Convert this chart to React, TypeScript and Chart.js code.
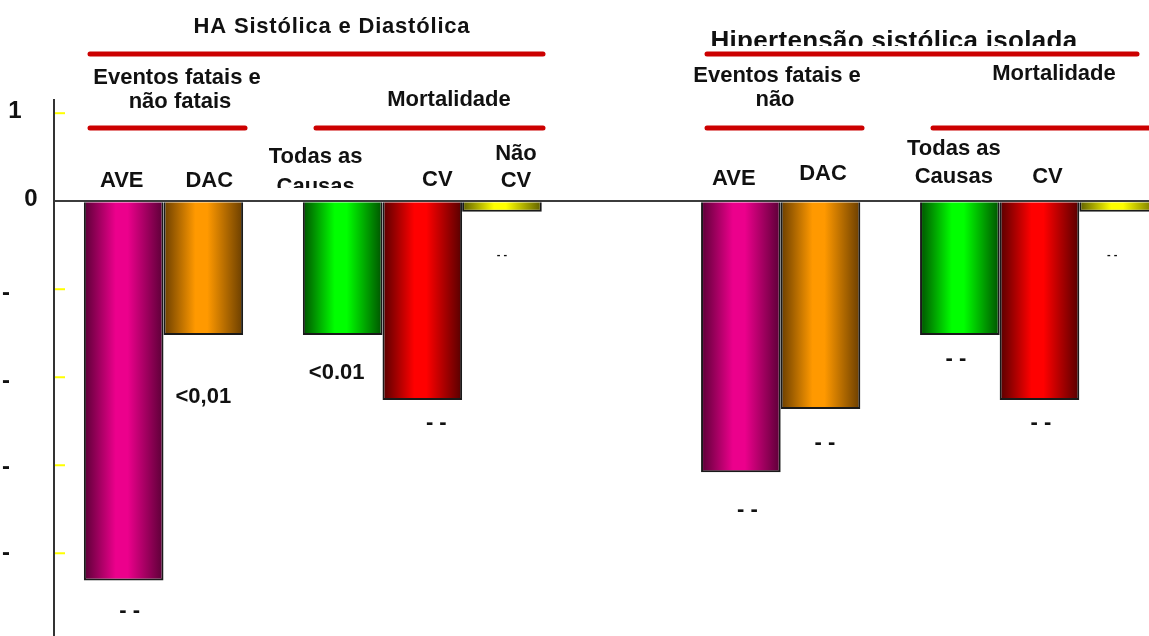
import React, { useEffect, useRef } from "react";
import { Chart, registerables } from "chart.js";

Chart.register(...registerables);

// ---------------- data ----------------
const groupTitles = ["HA Sistólica e Diastólica", "Hipertensão sistólica isolada"];
const categories = ["AVE", "DAC", "Todas as Causas", "CV", "Não CV"];
const sectionSizes = [2, 3]; // Eventos fatais e não fatais | Mortalidade
const haSectionTitles = [["Eventos fatais e", "não fatais"], ["Mortalidade"]];
const hstSectionTitles = [["Eventos fatais e", "não"], ["Mortalidade"]];
const haCategoryLabels = [["AVE"], ["DAC"], ["Todas as", "Causas"], ["CV"], ["Não", "CV"]];
const hstCategoryLabels = [["AVE"], ["DAC"], ["Todas as", "Causas"], ["CV"], []];
const haValues = [-4.31, -1.52, -1.52, -2.26, -0.12];
const hstValues = [-3.08, -2.36, -1.52, -2.26, -0.12];
const haNotes = ["- -", "<0,01", "<0.01", "- -", "- -"];
const hstNotes = ["- -", "- -", "- -", "- -", "- -"];
const yTickValues = [1, 0, -1, -2, -3, -4];
const yTickLabels = ["1", "0", "-", "-", "-", "-"];

// ---------------- layout / style ----------------
const W = 1149;
const H = 636;
const FONT = '"Liberation Sans", Arial, sans-serif';
const BAR_SLOTS = 4;
const LEAD_SLOTS = 3;
const SECTION_GAP = 3;
const GROUP_GAP = 8;
const TOTAL_SLOTS = 55;
const Y_MIN = -4.94;
const Y_MAX = 1.15;

const barColors: [string, string][] = [
  ["#5a0036", "#ec008c"],
  ["#6a3e00", "#ff9900"],
  ["#005200", "#00ff00"],
  ["#560000", "#ff0000"],
  ["#5e5e00", "#ffff00"],
];

const yLabelX = [15, 31, 6, 6, 6, 6];
const yLabelDy = [-2, -2, 4, 4, 2, 0];

const headerLayout = [
  { x: 332, base: 33, size: 22, spacing: 0.8, clip: 0, line: [90, 543] },
  { x: 894, base: 49, size: 26, spacing: 0.3, clip: 46, line: [707, 1137] },
];
const HEADER_LINE_Y = 54;
const SECTION_LINE_Y = 128;
const sectionLayout = [
  [
    { x: [177, 180], base: [84, 108], line: [90, 245] },
    { x: [449], base: [106], line: [316, 543] },
  ],
  [
    { x: [777, 775], base: [82, 106], line: [707, 862] },
    { x: [1054], base: [80], line: [933, 1165] },
  ],
];
const labelLayout = [
  [
    { dx: -2, base: [187] },
    { dx: 6, base: [187] },
    { dx: -27, base: [163, 193] },
    { dx: 15, base: [186] },
    { dx: 14, base: [160, 187] },
  ],
  [
    { dx: -7, base: [185] },
    { dx: 2.5, base: [180] },
    { dx: -6, base: [155, 183] },
    { dx: 8, base: [183] },
    { dx: 0, base: [] },
  ],
];
const LABEL_CLIP_Y = 188;
const noteLayout = [
  [[6, 30], [0, 62], [-6, 38], [14, 23], [0, 43]],
  [[6.5, 38], [4.5, 34], [-4, 24], [1.5, 23], [-7, 43]],
];

// ---------------- build slots ----------------
const groupValues = [haValues, hstValues];
const groupNotes = [haNotes, hstNotes];
const groupLabels = [haCategoryLabels, hstCategoryLabels];
const groupSections = [haSectionTitles, hstSectionTitles];

const barSlots: number[][] = [];
{
  let s = LEAD_SLOTS;
  groupTitles.forEach((_, gi) => {
    if (gi > 0) s += GROUP_GAP;
    const row: number[] = [];
    sectionSizes.forEach((n, si) => {
      if (si > 0) s += SECTION_GAP;
      for (let k = 0; k < n; k++) {
        row.push(s);
        s += BAR_SLOTS;
      }
    });
    barSlots.push(row);
  });
}
const slotLabels: string[] = new Array(TOTAL_SLOTS).fill("");
const slotData: (number | null)[] = new Array(TOTAL_SLOTS).fill(null);
const slotCategory: number[] = new Array(TOTAL_SLOTS).fill(-1);
barSlots.forEach((row, gi) =>
  row.forEach((slot, ci) => {
    slotData[slot] = groupValues[gi][ci];
    slotCategory[slot] = ci;
    slotLabels[slot] = categories[ci];
  })
);

function barFill(c: any) {
  const ci = c.dataIndex !== undefined ? slotCategory[c.dataIndex] : -1;
  const pair = barColors[ci] || barColors[0];
  const chart = c.chart;
  const xs = chart.scales && chart.scales.x;
  if (ci < 0 || !chart.chartArea || !xs) return pair[1];
  const cx = xs.getPixelForValue(c.dataIndex);
  const half = ((xs.width / TOTAL_SLOTS) * BAR_SLOTS) / 2;
  if (!isFinite(cx) || !isFinite(half)) return pair[1];
  const g = chart.ctx.createLinearGradient(cx - half, 0, cx + half, 0);
  g.addColorStop(0, pair[0]);
  g.addColorStop(0.4, pair[1]);
  g.addColorStop(0.55, pair[1]);
  g.addColorStop(1, pair[0]);
  return g;
}

function drawText(
  ctx: CanvasRenderingContext2D,
  str: string,
  x: number,
  y: number,
  size: number,
  baseline: CanvasTextBaseline = "alphabetic",
  spacing = 0
) {
  ctx.save();
  ctx.font = `bold ${size}px ${FONT}`;
  ctx.fillStyle = "#111111";
  ctx.textAlign = "center";
  ctx.textBaseline = baseline;
  if (spacing && "letterSpacing" in ctx) (ctx as any).letterSpacing = `${spacing}px`;
  ctx.fillText(str, x, y);
  ctx.restore();
}

function redLine(ctx: CanvasRenderingContext2D, x1: number, x2: number, y: number) {
  ctx.save();
  ctx.strokeStyle = "#cc0000";
  ctx.lineWidth = 5;
  ctx.lineCap = "round";
  ctx.beginPath();
  ctx.moveTo(x1, y);
  ctx.lineTo(x2, y);
  ctx.stroke();
  ctx.restore();
}

const decorPlugin = {
  id: "decor",
  afterDraw(chart: any) {
    const ctx: CanvasRenderingContext2D = chart.ctx;
    const ys = chart.scales.y;
    const area = chart.chartArea;
    const meta = chart.getDatasetMeta(0);

    // y tick labels + yellow inner tick marks
    ys.ticks.forEach((t: any) => {
      const idx = yTickValues.indexOf(t.value);
      if (idx < 0) return;
      const py = ys.getPixelForValue(t.value);
      drawText(ctx, yTickLabels[idx], yLabelX[idx], py + yLabelDy[idx], 24, "middle");
      if (t.value !== 0) {
        ctx.save();
        ctx.strokeStyle = "#ffff00";
        ctx.lineWidth = 2;
        ctx.beginPath();
        ctx.moveTo(area.left + 1, py);
        ctx.lineTo(area.left + 11, py);
        ctx.stroke();
        ctx.restore();
      }
    });

    groupTitles.forEach((title, gi) => {
      const hl = headerLayout[gi];
      ctx.save();
      if (hl.clip) {
        ctx.beginPath();
        ctx.rect(0, 0, W, hl.clip);
        ctx.clip();
      }
      drawText(ctx, title, hl.x, hl.base, hl.size, "alphabetic", hl.spacing);
      ctx.restore();
      redLine(ctx, hl.line[0], hl.line[1], HEADER_LINE_Y);

      groupSections[gi].forEach((lines, si) => {
        const sl = sectionLayout[gi][si];
        lines.forEach((ln, li) => drawText(ctx, ln, sl.x[li], sl.base[li], 22));
        redLine(ctx, sl.line[0], sl.line[1], SECTION_LINE_Y);
      });

      barSlots[gi].forEach((slot, ci) => {
        const el = meta.data[slot];
        if (!el) return;
        const ll = labelLayout[gi][ci];
        ctx.save();
        ctx.beginPath();
        ctx.rect(0, 0, W, LABEL_CLIP_Y);
        ctx.clip();
        groupLabels[gi][ci].forEach((ln, li) => drawText(ctx, ln, el.x + ll.dx, ll.base[li], 22));
        ctx.restore();

        const note = groupNotes[gi][ci];
        const [ndx, ndy] = noteLayout[gi][ci];
        const small = ci === 4;
        drawText(ctx, note, el.x + ndx, el.y + ndy, small ? 11 : 22, "middle");
      });
    });
  },
};

export default function App() {
  const ref = useRef<HTMLCanvasElement>(null);
  useEffect(() => {
    const canvas = ref.current;
    if (!canvas) return;
    const chart = new Chart(canvas, {
      type: "bar",
      data: {
        labels: slotLabels,
        datasets: [
          {
            label: "Redução",
            data: slotData as any,
            backgroundColor: barFill as any,
            borderColor: "#1a1a1a",
            borderWidth: 2,
            borderSkipped: "start",
            barPercentage: BAR_SLOTS,
            categoryPercentage: 1,
          },
        ],
      },
      options: {
        responsive: false,
        animation: false,
        layout: { padding: { top: 100, left: 0, right: 0, bottom: 0 } },
        plugins: {
          legend: { display: false },
          tooltip: { enabled: false },
          title: { display: false },
        },
        scales: {
          x: { display: false, offset: true },
          y: {
            min: Y_MIN,
            max: Y_MAX,
            afterFit: (s: any) => {
              s.width = 54;
            },
            ticks: { display: false, stepSize: 1, includeBounds: false },
            grid: {
              drawTicks: false,
              lineWidth: 2,
              color: (c: any) => (c.tick && c.tick.value === 0 ? "#3c3c3c" : "rgba(0,0,0,0)"),
            },
            border: { display: true, color: "#333333", width: 2 },
          },
        },
      },
      plugins: [decorPlugin as any],
    });
    return () => chart.destroy();
  }, []);
  return (
    <div style={{ position: "fixed", left: 0, top: 0, width: W, height: H, background: "#ffffff" }}>
      <canvas ref={ref} width={W} height={H} style={{ display: "block" }} />
    </div>
  );
}
